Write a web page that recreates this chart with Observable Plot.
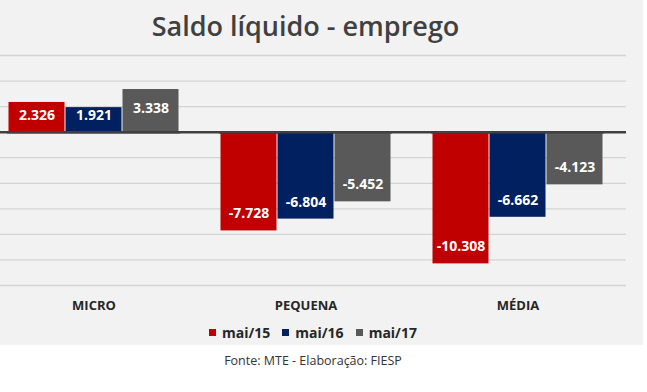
<!DOCTYPE html>
<html>
<head>
<meta charset="utf-8">
<script src="https://cdn.jsdelivr.net/npm/d3@7"></script>
<script src="https://cdn.jsdelivr.net/npm/@observablehq/plot@0.6"></script>
<style>
  body { margin: 0; background: #ffffff; }
  #panel { width: 643px; height: 345px; background: #f2f2f2; position: relative; overflow: visible; }
  #title { width: 611px; text-align: center; font-family: "Open Sans", sans-serif; font-weight: 600; font-size: 27px; line-height: 36px; padding-top: 8px; height: 42px; color: #404040; }
  #chart { position: relative; width: 643px; height: 265px; }
  #chart svg { display: block; overflow: visible; position: absolute; left: 0; top: 0; }
  #legend { width: 626px; height: 26px; padding-top: 4px; display: flex; justify-content: center; align-items: center; font-family: "Open Sans", sans-serif; font-weight: 700; font-size: 14px; color: #262626; }
  .item { display: inline-flex; align-items: center; margin: 0 6px; }
  .sw { width: 7px; height: 7px; margin-right: 6px; display: inline-block; }
  #caption { width: 626px; text-align: center; font-family: "Open Sans", sans-serif; font-size: 12.5px; color: #333333; padding-top: 7px; }
</style>
</head>
<body>
<div id="panel">
  <div id="title">Saldo líquido - emprego</div>
  <div id="chart"></div>
  <div id="legend"></div>
</div>
<div id="caption">Fonte: MTE - Elaboração: FIESP</div>
<script>
const categories = ["MICRO", "PEQUENA", "MÉDIA"];
const series = ["mai/15", "mai/16", "mai/17"];
const mai15 = [2326, -7728, -10308];
const mai16 = [1921, -6804, -6662];
const mai17 = [3338, -5452, -4123];
const colors = ["#c00000", "#002060", "#595959"];
const yTicks = [-12000, -10000, -8000, -6000, -4000, -2000, 2000, 4000, 6000];

const seriesValues = [mai15, mai16, mai17];
const table = categories.flatMap((c, i) => series.map((s, j) => ({category: c, series: s, value: seriesValues[j][i]})));

const ptBR = d3.formatLocale({decimal: ",", thousands: ".", grouping: [3], currency: ["R$", ""], minus: "-"});
const fmt = ptBR.format(",d");

const common = {
  width: 643,
  height: 265,
  marginTop: 5,
  marginBottom: 30,
  marginLeft: 0,
  marginRight: 17,
  y: {domain: [-12000, 6000], axis: null}
};

// background layer: full-width gridlines and zero line
const grid = Plot.plot({
  ...common,
  style: {background: "transparent", overflow: "visible"},
  marks: [
    Plot.ruleY(yTicks, {stroke: "#d4d4d4", strokeWidth: 1.3}),
    Plot.ruleY([0], {stroke: "#404040", strokeWidth: 2.5})
  ]
});

// foreground layer: grouped bars
const chart = Plot.plot({
  ...common,
  style: {background: "transparent", fontFamily: "'Open Sans', sans-serif", fontSize: "13px", fontWeight: "bold", color: "#262626", overflow: "visible"},
  fx: {domain: categories, paddingInner: 0.183, paddingOuter: 0.0635, align: 0.25, axis: "bottom", label: null, tickSize: 0, tickPadding: 15},
  x: {domain: series, axis: null, padding: 0},
  color: {domain: series, range: colors},
  marks: [
    Plot.barY(table, {fx: "category", x: "series", y: "value", fill: "series", insetLeft: 0.5, insetRight: 0.5}),
    Plot.text(table, {
      fx: "category", x: "series",
      y: d => d.value > 0 ? Math.max(d.value - 1450, 1330) : d.value + 1330,
      text: d => fmt(d.value),
      fill: "white", fontSize: 14, fontWeight: "bold", lineAnchor: "middle"
    }),
    Plot.ruleY([0], {stroke: "#404040", strokeWidth: 2.5})
  ]
});
const holder = document.getElementById("chart");
holder.appendChild(grid);
holder.appendChild(chart);

const legend = document.getElementById("legend");
series.forEach((s, i) => {
  const item = document.createElement("span");
  item.className = "item";
  const sw = document.createElement("span");
  sw.className = "sw";
  sw.style.background = colors[i];
  item.appendChild(sw);
  item.appendChild(document.createTextNode(s));
  legend.appendChild(item);
});
</script>
</body>
</html>
